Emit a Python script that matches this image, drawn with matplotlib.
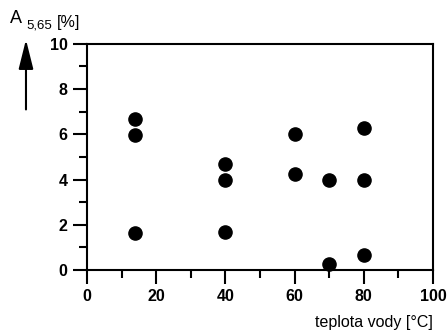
import numpy as np
import matplotlib.pyplot as plt
from matplotlib.ticker import MultipleLocator

plt.rcParams['font.family'] = ['Liberation Sans', 'DejaVu Sans']

# measured points: water temperature [°C] vs A5,65 elongation [%]
temp = [14, 14, 14, 40, 40, 40, 60, 60, 70, 70, 80, 80, 80]
elong = [6.7, 5.95, 1.65, 4.7, 4.0, 1.67, 6.0, 4.25, 4.0, 0.25, 6.3, 4.0, 0.65]

x_ticks = [0, 20, 40, 60, 80, 100]
y_ticks = [0, 2, 4, 6, 8, 10]

fig = plt.figure(figsize=(4.48, 3.35), dpi=100)
ax = fig.add_axes([0.194, 0.194, 0.7725, 0.675])

ax.scatter(temp, elong, s=90, color='black', zorder=3, clip_on=False)

ax.set_xlim(0, 100)
ax.set_ylim(0, 10)
ax.set_xticks(x_ticks)
ax.set_yticks(y_ticks)
ax.xaxis.set_minor_locator(MultipleLocator(10))
ax.yaxis.set_minor_locator(MultipleLocator(1))
ax.tick_params(which='major', direction='out', length=10, width=1.5,
               labelsize=11.5, pad=4)
ax.tick_params(which='minor', direction='out', length=6, width=1.5)
for lab in ax.get_xticklabels() + ax.get_yticklabels():
    lab.set_fontweight('bold')
for sp in ax.spines.values():
    sp.set_linewidth(1.5)

fig.text(0.967, 0.015, 'teplota vody [°C]', ha='right', va='bottom',
         fontsize=11.5)
fig.text(0.022, 0.93, 'A', ha='left', va='baseline', fontsize=13)
fig.text(0.06, 0.915, '5,65', ha='left', va='baseline', fontsize=9.5)
fig.text(0.128, 0.92, '[%]', ha='left', va='baseline', fontsize=11.5)
ax.annotate('', xy=(0.058, 0.89), xytext=(0.058, 0.665),
            xycoords='figure fraction',
            arrowprops=dict(arrowstyle='-|>,head_length=1.8,head_width=0.45',
                            color='black', lw=1.5))

fig.savefig('out.png', dpi=100)
